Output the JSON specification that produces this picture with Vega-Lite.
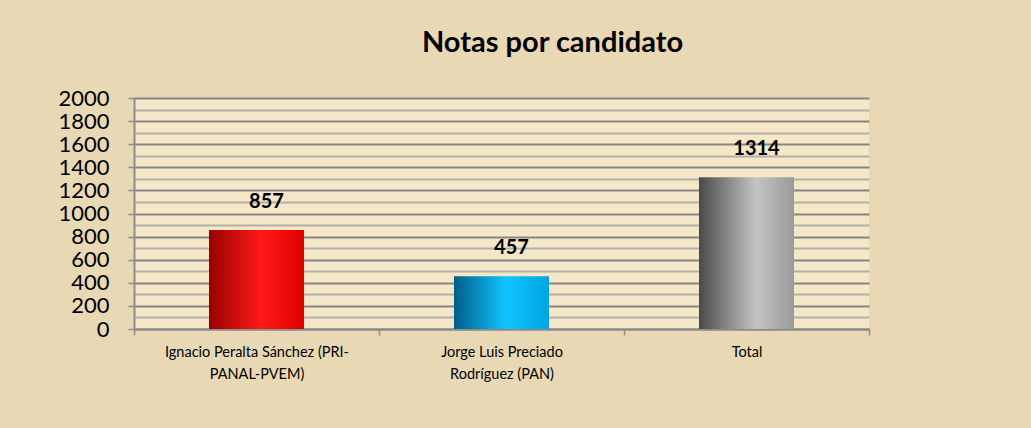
{
  "$schema": "https://vega.github.io/schema/vega-lite/v6.json",
  "width": 735,
  "height": 231,
  "padding": {"left": 57, "top": 29, "right": 163, "bottom": 55},
  "background": "#e8d8b4",
  "title": {
    "text": "Notas por candidato",
    "font": "Lato",
    "fontSize": 29,
    "fontWeight": "bold",
    "color": "#000000",
    "anchor": "middle",
    "frame": "group",
    "dx": 51,
    "offset": 29
  },
  "config": {
    "view": {"fill": "#f4e8c9", "stroke": null}
  },
  "data": {
    "values": [
      {"candidato": "Ignacio Peralta Sánchez (PRI-PANAL-PVEM)", "notas": 857},
      {"candidato": "Jorge Luis Preciado Rodríguez (PAN)", "notas": 457},
      {"candidato": "Total", "notas": 1314}
    ]
  },
  "encoding": {
    "x": {
      "field": "candidato",
      "type": "nominal",
      "sort": null,
      "scale": {"paddingInner": 0, "paddingOuter": 0},
      "axis": {
        "title": null,
        "labelAngle": 0,
        "labelFont": "Lato",
        "labelFontSize": 14.5,
        "labelColor": "#000000",
        "labelPadding": 10,
        "labelLineHeight": 22,
        "labelLimit": 400,
        "labelExpr": "datum.value == 'Total' ? 'Total' : (datum.value == 'Ignacio Peralta Sánchez (PRI-PANAL-PVEM)' ? ['Ignacio Peralta Sánchez (PRI-', 'PANAL-PVEM)'] : (datum.value == 'Jorge Luis Preciado Rodríguez (PAN)' ? ['Jorge Luis Preciado', 'Rodríguez (PAN)'] : ''))",
        "domainColor": "#8c8c8c",
        "domainWidth": 2,
        "tickColor": "#8c8c8c",
        "tickWidth": 1.5,
        "tickSize": 6,
        "tickBand": "extent"
      }
    },
    "y": {
      "field": "notas",
      "type": "quantitative",
      "scale": {"domain": [0, 2000], "nice": false},
      "axis": {
        "title": null,
        "values": [0,100,200,300,400,500,600,700,800,900,1000,1100,1200,1300,1400,1500,1600,1700,1800,1900,2000],
        "labelExpr": "datum.value % 200 == 0 ? replace(datum.label, ',', '') : ''",
        "labelFont": "Lato",
        "labelFontSize": 22,
        "labelColor": "#000000",
        "labelPadding": 19,
        "domainColor": "#8c8c8c",
        "domainWidth": 2,
        "tickColor": {"condition": {"test": "datum.value % 200 == 0", "value": "#8c8c8c"}, "value": "transparent"},
        "tickSize": 6,
        "tickWidth": 1.5,
        "grid": true,
        "gridColor": {"condition": {"test": "datum.value % 200 == 0", "value": "#858585"}, "value": "#b3afa7"},
        "gridWidth": 2
      }
    }
  },
  "layer": [
    {
      "transform": [{"filter": "datum.candidato == 'Ignacio Peralta Sánchez (PRI-PANAL-PVEM)'"}],
      "mark": {
        "type": "bar",
        "width": 95,
        "color": {"gradient": "linear", "x1": 0, "y1": 0, "x2": 1, "y2": 0,
          "stops": [{"offset": 0, "color": "#9a0000"}, {"offset": 0.55, "color": "#ff1a1a"}, {"offset": 1, "color": "#e00000"}]}
      }
    },
    {
      "transform": [{"filter": "datum.candidato == 'Jorge Luis Preciado Rodríguez (PAN)'"}],
      "mark": {
        "type": "bar",
        "width": 95,
        "color": {"gradient": "linear", "x1": 0, "y1": 0, "x2": 1, "y2": 0,
          "stops": [{"offset": 0, "color": "#005f8a"}, {"offset": 0.55, "color": "#10c4ff"}, {"offset": 1, "color": "#00a6e0"}]}
      }
    },
    {
      "transform": [{"filter": "datum.candidato == 'Total'"}],
      "mark": {
        "type": "bar",
        "width": 95,
        "color": {"gradient": "linear", "x1": 0, "y1": 0, "x2": 1, "y2": 0,
          "stops": [{"offset": 0, "color": "#4a4a4a"}, {"offset": 0.6, "color": "#c4c4c4"}, {"offset": 1, "color": "#9a9a9a"}]}
      }
    },
    {
      "mark": {
        "type": "text",
        "font": "Lato",
        "fontSize": 20,
        "fontWeight": "bold",
        "color": "#000000",
        "baseline": "bottom",
        "dy": -18,
        "dx": 10
      },
      "encoding": {"text": {"field": "notas", "type": "quantitative"}}
    }
  ]
}
